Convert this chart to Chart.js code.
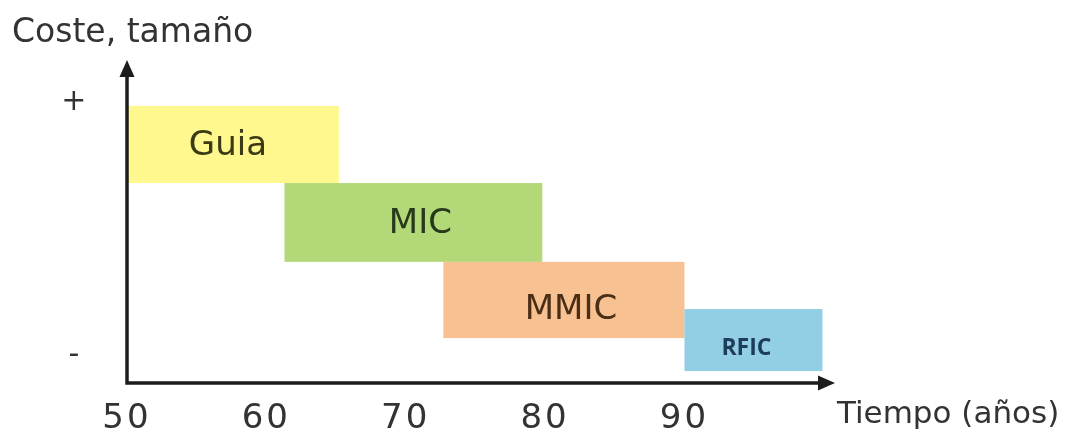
<!DOCTYPE html>
<html>
<head>
<meta charset="utf-8">
<script src="https://cdn.jsdelivr.net/npm/chart.js@4/dist/chart.umd.min.js"></script>
<style>
  html, body { margin: 0; padding: 0; background: #ffffff; overflow: hidden; }
  #wrap { width: 1069px; height: 437px; position: relative; }
</style>
</head>
<body>
<div id="wrap"><canvas id="c"></canvas></div>
<script>
// Technology generations: each block covers a span of years and a cost/size band
const technologies = ['Guia', 'MIC', 'MMIC', 'RFIC'];
const yearStart = [50, 61.3, 72.7, 90];
const yearEnd = [65.2, 79.8, 90, 99.9];
const costLow = [61.9, 37.5, 13.9, 3.7];
const costHigh = [85.8, 61.9, 37.5, 22.9];

const yearTicks = [50, 60, 70, 80, 90];
const yearTickLabels = ['50', '60', '70', '80', '90'];
const costTicks = [8.5, 87];
const costTickLabels = ['-', '+'];

const xAxisTitle = 'Tiempo (años)';
const yAxisTitle = 'Coste, tamaño';

// Look of each block and its caption
const blockStyle = {
  Guia: { fill: '#FFF88F', text: '#3a3a14', font: '34px "DejaVu Sans"', dx: -5, dy: 2 },
  MIC:  { fill: '#B2D878', text: '#27391a', font: '34px "DejaVu Sans"', dx: 7, dy: 2 },
  MMIC: { fill: '#F8C192', text: '#4a2e16', font: '34px "DejaVu Sans"', dx: 7, dy: 10 },
  RFIC: { fill: '#93CFE4', text: '#1d3d58', font: 'bold 23px "Open Sans"', dx: -7, dy: 8 }
};
const axisColor = '#1c1c1c';
const textColor = '#333333';

// Coloured blocks with captions, placed through the chart scales
const blocksPlugin = {
  id: 'eraBlocks',
  beforeDatasetsDraw(chart) {
    chart.ctx.letterSpacing = '0px';
  },
  afterDatasetsDraw(chart) {
    const { ctx, scales: { x, y } } = chart;
    ctx.save();
    technologies.forEach((name, i) => {
      const st = blockStyle[name];
      const x0 = x.getPixelForValue(yearStart[i]);
      const x1 = x.getPixelForValue(yearEnd[i]);
      const y0 = y.getPixelForValue(costHigh[i]);
      const y1 = y.getPixelForValue(costLow[i]);
      ctx.fillStyle = st.fill;
      ctx.fillRect(x0, y0, x1 - x0, y1 - y0);
    });
    technologies.forEach((name, i) => {
      const st = blockStyle[name];
      const cx = (x.getPixelForValue(yearStart[i]) + x.getPixelForValue(yearEnd[i])) / 2;
      const cy = (y.getPixelForValue(costHigh[i]) + y.getPixelForValue(costLow[i])) / 2;
      ctx.fillStyle = st.text;
      ctx.font = st.font;
      ctx.textAlign = 'center';
      ctx.textBaseline = 'middle';
      ctx.fillText(name, cx + st.dx, cy + st.dy);
    });
    ctx.restore();
  }
};

// Axes with arrow heads and their titles
const arrowAxesPlugin = {
  id: 'arrowAxes',
  beforeDraw(chart) {
    // slightly open spacing for the wide tick numerals
    chart.ctx.letterSpacing = '3px';
  },
  afterDraw(chart) {
    const { ctx, scales: { x, y } } = chart;
    const ox = x.getPixelForValue(x.min);
    const oy = y.getPixelForValue(y.min);
    const xEnd = x.getPixelForValue(x.max);
    const yEnd = y.getPixelForValue(y.max);
    const head = 17, half = 7.5;
    ctx.save();
    ctx.letterSpacing = '0px';
    ctx.strokeStyle = axisColor;
    ctx.fillStyle = axisColor;
    ctx.lineWidth = 3.5;
    ctx.lineCap = 'butt';
    ctx.beginPath();
    ctx.moveTo(ox, yEnd + head - 2);
    ctx.lineTo(ox, oy);
    ctx.lineTo(xEnd - head + 2, oy);
    ctx.stroke();
    ctx.beginPath();
    ctx.moveTo(ox, yEnd);
    ctx.lineTo(ox - half, yEnd + head);
    ctx.lineTo(ox + half, yEnd + head);
    ctx.closePath();
    ctx.fill();
    ctx.beginPath();
    ctx.moveTo(xEnd, oy);
    ctx.lineTo(xEnd - head, oy - half);
    ctx.lineTo(xEnd - head, oy + half);
    ctx.closePath();
    ctx.fill();

    ctx.fillStyle = textColor;
    ctx.textBaseline = 'middle';
    ctx.textAlign = 'left';
    ctx.font = '33px "DejaVu Sans"';
    ctx.fillText(yAxisTitle, 12, 33);
    ctx.font = '31px "DejaVu Sans"';
    ctx.fillText(xAxisTitle, xEnd + 2, 415);
    ctx.restore();
  }
};

new Chart(document.getElementById('c'), {
  type: 'scatter',
  data: { datasets: [] },
  options: {
    responsive: true,
    maintainAspectRatio: false,
    animation: false,
    layout: { padding: { top: 60, right: 234, left: 0, bottom: 0 } },
    plugins: { legend: { display: false }, tooltip: { enabled: false }, title: { display: false } },
    scales: {
      x: {
        type: 'linear',
        min: 50,
        max: 100.8,
        grid: { display: false },
        border: { display: false },
        afterBuildTicks: (s) => { s.ticks = yearTicks.map(v => ({ value: v })); },
        afterFit: (s) => { s.height = 54; },
        ticks: {
          autoSkip: false,
          maxRotation: 0,
          padding: 8,
          color: textColor,
          font: { family: 'DejaVu Sans', size: 34 },
          callback: (v) => yearTickLabels[yearTicks.indexOf(v)]
        }
      },
      y: {
        type: 'linear',
        min: 0,
        max: 100,
        grid: { display: false },
        border: { display: false },
        afterBuildTicks: (s) => { s.ticks = costTicks.map(v => ({ value: v })); },
        afterFit: (s) => { s.width = 127; },
        ticks: {
          crossAlign: 'center',
          padding: 31,
          color: textColor,
          font: { family: 'DejaVu Sans', size: 30 },
          callback: (v) => costTickLabels[costTicks.indexOf(v)]
        }
      }
    }
  },
  plugins: [blocksPlugin, arrowAxesPlugin]
});
</script>
</body>
</html>
